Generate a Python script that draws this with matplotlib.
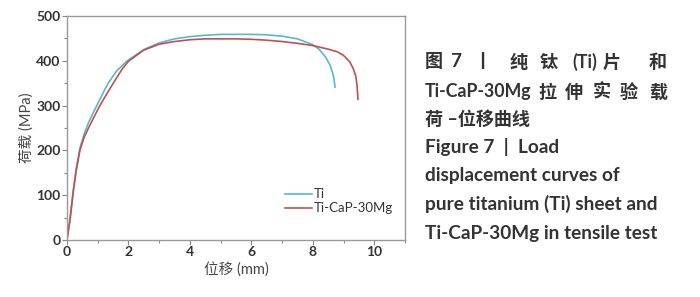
import matplotlib
matplotlib.use("Agg")
import matplotlib.pyplot as plt
from matplotlib.ticker import MultipleLocator

plt.rcParams['font.family'] = ['Lato', 'Noto Sans CJK SC', 'DejaVu Sans']

ti_x = [0, 0.1, 0.2, 0.3, 0.42, 0.55, 0.7, 0.86, 0.97, 1.15, 1.34, 1.6, 1.94, 2.5, 3.0, 3.5, 4.0,
        4.5, 5.0, 5.5, 6.0, 6.5, 7.0, 7.5, 8.0, 8.2, 8.4, 8.55, 8.65, 8.7, 8.72]
ti_y = [0, 50, 110, 160, 205, 235, 262, 285, 300, 325, 350, 376, 399, 425, 440, 449, 454,
        457, 459, 459, 459, 458, 455, 449, 436, 426, 410, 392, 372, 355, 341]

mg_x = [0, 0.1, 0.2, 0.3, 0.42, 0.55, 0.7, 0.86, 1.07, 1.3, 1.56, 1.8, 2.0, 2.5, 3.0, 3.5, 4.0, 4.5,
        5.0, 5.5, 6.0, 6.5, 7.0, 7.5, 8.0, 8.5, 8.8, 9.0, 9.2, 9.32, 9.4, 9.44, 9.47]
mg_y = [0, 45, 105, 155, 200, 228, 250, 272, 300, 327, 356, 382, 399, 424, 437, 443, 447, 449,
        449, 449, 448, 446, 443, 439, 434, 426, 420, 412, 398, 382, 365, 345, 314]

series_names = ['Ti', 'Ti-CaP-30Mg']
x_ticks = [0, 2, 4, 6, 8, 10]
y_ticks = [0, 100, 200, 300, 400, 500]

fig = plt.figure(figsize=(7.0, 2.97), dpi=100)
ax = fig.add_axes([67/700, 57/297, 338/700, 224/297])

ax.plot(ti_x, ti_y, color='#55b8d4', lw=1.2, label=series_names[0])
ax.plot(mg_x, mg_y, color='#c0504d', lw=1.2, label=series_names[1])

ax.set_xlim(0, 11)
ax.set_ylim(0, 500)
ax.set_xticks(x_ticks)
ax.set_yticks(y_ticks)
ax.xaxis.set_minor_locator(MultipleLocator(1))
ax.yaxis.set_minor_locator(MultipleLocator(50))
ax.tick_params(which='major', length=3.5, width=0.8, color='#888888', direction='out',
               labelsize=10, labelcolor='#333333', pad=1)
ax.tick_params(which='minor', length=2, width=0.8, color='#888888', direction='out')
for lab in ax.get_xticklabels() + ax.get_yticklabels():
    lab.set_fontweight('bold')
for s in ax.spines.values():
    s.set_color('#999999')
    s.set_linewidth(1.0)

ax.set_xlabel('位移 (mm)', fontsize=10.5, color='#444444', labelpad=3)
ax.set_ylabel('荷载 (MPa)', fontsize=10.5, color='#444444', labelpad=2)

leg = ax.legend(loc='upper left', bbox_to_anchor=(0.63, 0.255), frameon=False, fontsize=9.5,
                handlelength=2.0, handletextpad=0.15, labelspacing=0.15, borderaxespad=0)
for t in leg.get_texts():
    t.set_color('#333333')

def px(x, y):
    return x / 700, 1 - y / 297

style = dict(fontweight='bold', color='#333333', va='center', ha='left')
ENG = 13.7
SHORT = 12.8
CJK = 13

line1 = [('图', 425, CJK), ('7', 450, ENG), ('丨', 473, CJK), ('纯', 510, CJK), ('钛', 540, CJK),
         ('(Ti)', 572, SHORT), ('片', 603, CJK), ('和', 649, CJK)]
for t, x, fs in line1:
    fig.text(*px(x, 62), t, fontsize=fs, **style)
line2 = [('Ti-CaP-30Mg', 425, SHORT), ('拉', 538, CJK), ('伸', 565, CJK), ('实', 593, CJK),
         ('验', 620, CJK), ('载', 649, CJK)]
for t, x, fs in line2:
    fig.text(*px(x, 92), t, fontsize=fs, **style)
fig.text(*px(425, 119), '荷 –位移曲线', fontsize=CJK, **style)
fig.text(*px(425, 147), 'Figure 7  |  Load', fontsize=ENG, **style)
fig.text(*px(425, 176), 'displacement curves of', fontsize=ENG, **style)
fig.text(*px(425, 204), 'pure titanium (Ti) sheet and', fontsize=ENG, **style)
fig.text(*px(425, 233), 'Ti-CaP-30Mg in tensile test', fontsize=ENG, **style)

fig.savefig('out.png', dpi=100)
